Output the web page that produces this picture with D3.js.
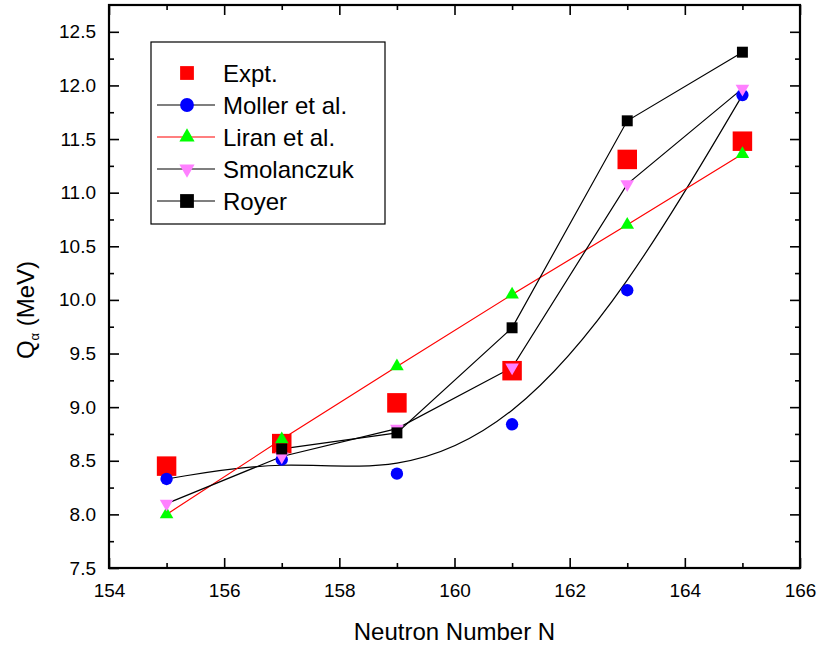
<!DOCTYPE html>
<html>
<head>
<meta charset="utf-8">
<script src="https://cdn.jsdelivr.net/npm/d3@7"></script>
<style>
  body { margin: 0; background: #fff; }
  text { font-family: "Liberation Sans", Arial, sans-serif; }
</style>
</head>
<body>
<script>
// data
var neutrons = [155, 157, 159, 161, 163, 165];
var expt       = [8.45, 8.66, 9.04, 9.34, 11.31, 11.48];
var moller     = [8.33, 8.51, 8.38, 8.84, 10.09, 11.91];
var liran      = [8.00, 8.70, 9.38, 10.05, 10.70, 11.36];
var smolanczuk = [8.10, 8.54, 8.80, 9.37, 11.08, 11.97];
var royer      = [null, 8.61, 8.76, 9.74, 11.67, 12.31];

var xMajor = [154, 156, 158, 160, 162, 164, 166];
var xMinor = [155, 157, 159, 161, 163, 165];
var yMajor = [7.5, 8.0, 8.5, 9.0, 9.5, 10.0, 10.5, 11.0, 11.5, 12.0, 12.5];
var yMinor = [7.75, 8.25, 8.75, 9.25, 9.75, 10.25, 10.75, 11.25, 11.75, 12.25];

var width = 822, height = 649;
var pLeft = 109, pRight = 800, pTop = 5, pBottom = 568;

var svg = d3.select('body').append('svg')
    .attr('width', width)
    .attr('height', height);

var x = d3.scaleLinear().domain([154, 166]).range([pLeft, pRight]);
var y = d3.scaleLinear().domain([7.5, 12.75]).range([pBottom, pTop]);

// axes - all ticks point inward
function styleAxis(g) {
  g.select('.domain').remove();
  g.selectAll('.tick line').attr('stroke', '#000').attr('stroke-width', 1.6);
  g.selectAll('text').attr('font-size', 19).attr('fill', '#000')
    .style('font-family', '"Liberation Sans", Arial, sans-serif');
}

svg.append('g').attr('transform', 'translate(0,' + pBottom + ')')
  .call(d3.axisBottom(x).tickValues(xMajor).tickSize(-10).tickPadding(15.5).tickFormat(d3.format('d')))
  .call(styleAxis);
svg.append('g').attr('transform', 'translate(0,' + pBottom + ')')
  .call(d3.axisBottom(x).tickValues(xMinor).tickSize(-5).tickFormat(''))
  .call(styleAxis);
svg.append('g').attr('transform', 'translate(0,' + pTop + ')')
  .call(d3.axisTop(x).tickValues(xMajor).tickSize(-10).tickFormat(''))
  .call(styleAxis);
svg.append('g').attr('transform', 'translate(0,' + pTop + ')')
  .call(d3.axisTop(x).tickValues(xMinor).tickSize(-5).tickFormat(''))
  .call(styleAxis);

svg.append('g').attr('transform', 'translate(' + pLeft + ',0)')
  .call(d3.axisLeft(y).tickValues(yMajor).tickSize(-10).tickPadding(13).tickFormat(d3.format('.1f')))
  .call(styleAxis);
svg.append('g').attr('transform', 'translate(' + pLeft + ',0)')
  .call(d3.axisLeft(y).tickValues(yMinor).tickSize(-5).tickFormat(''))
  .call(styleAxis);
svg.append('g').attr('transform', 'translate(' + pRight + ',0)')
  .call(d3.axisRight(y).tickValues(yMajor).tickSize(-10).tickFormat(''))
  .call(styleAxis);
svg.append('g').attr('transform', 'translate(' + pRight + ',0)')
  .call(d3.axisRight(y).tickValues(yMinor).tickSize(-5).tickFormat(''))
  .call(styleAxis);

// frame
svg.append('rect')
  .attr('x', pLeft).attr('y', pTop)
  .attr('width', pRight - pLeft).attr('height', pBottom - pTop)
  .attr('fill', 'none').attr('stroke', '#000').attr('stroke-width', 2.2);

// axis titles
svg.append('text')
  .attr('x', (pLeft + pRight) / 2).attr('y', 640)
  .attr('text-anchor', 'middle').attr('font-size', 24)
  .text('Neutron Number N');

var yt = svg.append('text')
  .attr('transform', 'translate(34,310) rotate(-90)')
  .attr('text-anchor', 'middle').attr('font-size', 24);
yt.append('tspan').text('Q');
yt.append('tspan').attr('font-size', 13).attr('dy', 5).text('\u03b1');
yt.append('tspan').attr('dy', -5).text(' (MeV)');

// series
function pts(vals) {
  return neutrons.map(function(n, i) { return { n: n, v: vals[i] }; })
    .filter(function(d) { return d.v !== null; });
}

var series = [
  { name: 'Expt.',        vals: expt,       color: '#ff0000', line: null,      curve: null,             sym: d3.symbolSquare,   size: 380, rot: 0 },
  { name: 'Moller et al.', vals: moller,    color: '#0000ff', line: '#000',    curve: d3.curveBasis,    sym: d3.symbolCircle,   size: 120, rot: 0 },
  { name: 'Liran et al.', vals: liran,      color: '#00ff00', line: '#ff0000', curve: d3.curveLinear,   sym: d3.symbolTriangle, size: 80,  rot: 0 },
  { name: 'Smolanczuk',   vals: smolanczuk, color: '#ff80ff', line: '#000',    curve: d3.curveLinear,   sym: d3.symbolTriangle, size: 80,  rot: 180 },
  { name: 'Royer',        vals: royer,      color: '#000000', line: '#000',    curve: d3.curveLinear,   sym: d3.symbolSquare,   size: 120, rot: 0 }
];

// lines first
series.forEach(function(s) {
  if (!s.line) return;
  var line = d3.line()
    .x(function(d) { return x(d.n); })
    .y(function(d) { return y(d.v); })
    .curve(s.curve);
  svg.append('path')
    .datum(pts(s.vals))
    .attr('d', line)
    .attr('fill', 'none')
    .attr('stroke', s.line)
    .attr('stroke-width', 1.2);
});

// markers
series.forEach(function(s) {
  svg.append('g').selectAll('path')
    .data(pts(s.vals))
    .enter().append('path')
    .attr('d', d3.symbol().type(s.sym).size(s.size))
    .attr('transform', function(d) {
      return 'translate(' + x(d.n) + ',' + y(d.v) + ') rotate(' + s.rot + ')';
    })
    .attr('fill', s.color);
});

// legend
var lg = svg.append('g');
lg.append('rect')
  .attr('x', 151).attr('y', 42).attr('width', 234).attr('height', 182)
  .attr('fill', '#fff').attr('stroke', '#000').attr('stroke-width', 1.2);

series.forEach(function(s, i) {
  var cy = 73 + i * 32;
  if (s.line) {
    lg.append('line')
      .attr('x1', 157).attr('x2', 215).attr('y1', cy).attr('y2', cy)
      .attr('stroke', s.line).attr('stroke-width', 1.2);
  }
  lg.append('path')
    .attr('d', d3.symbol().type(s.sym).size(s.sym === d3.symbolTriangle ? 100 : (s.sym === d3.symbolCircle ? 150 : 190)))
    .attr('transform', 'translate(187,' + cy + ') rotate(' + s.rot + ')')
    .attr('fill', s.color);
  lg.append('text')
    .attr('x', 223).attr('y', cy + 9)
    .attr('font-size', 24)
    .text(s.name);
});
</script>
</body>
</html>
